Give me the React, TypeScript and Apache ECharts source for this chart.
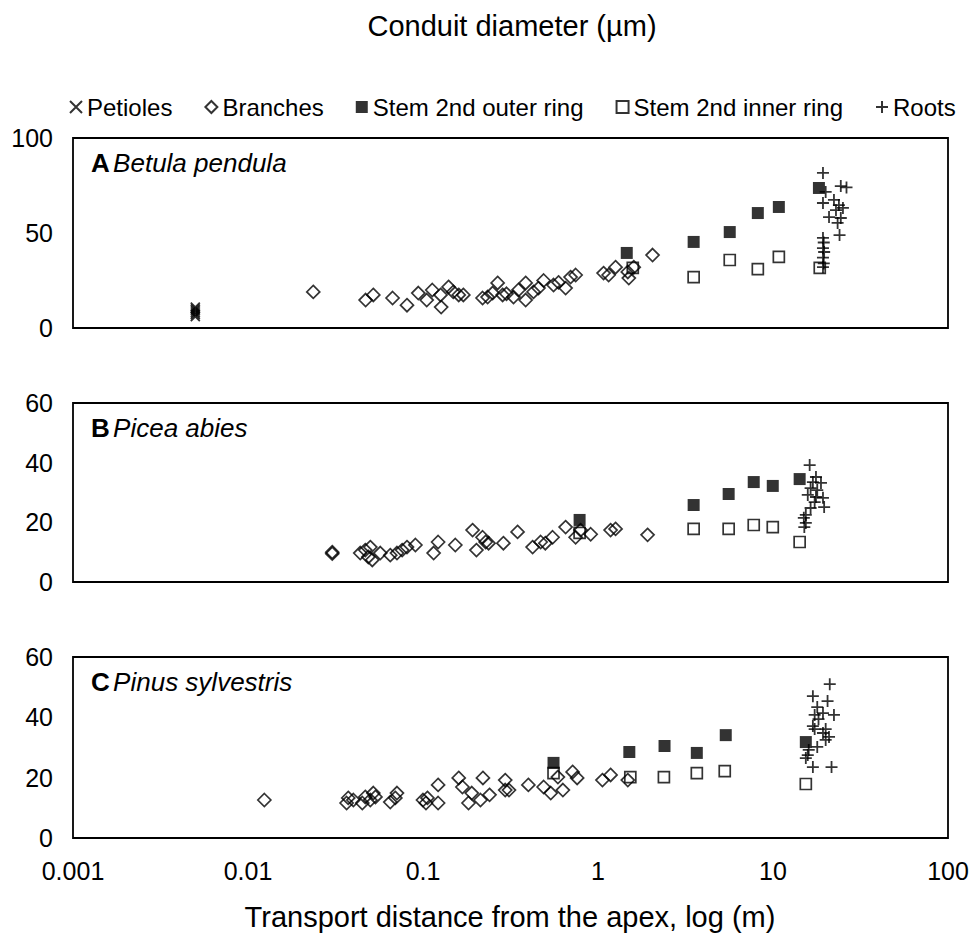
import React, { useEffect, useRef } from 'react';
import * as echarts from 'echarts';

const seriesNames = ['Petioles', 'Branches', 'Stem 2nd outer ring', 'Stem 2nd inner ring', 'Roots'];
const xTickLabels = ['0.001', '0.01', '0.1', '1', '10', '100'];
const panelLetters = ['A', 'B', 'C'];
const panelSpecies = ['Betula pendula', 'Picea abies', 'Pinus sylvestris'];
const yMaxes = [100, 60, 60];
const yIntervals = [50, 20, 20];

// Panel A: Betula pendula
const betulaPetioles = [[0.005, 6], [0.005, 7], [0.005, 8], [0.005, 9], [0.005, 10], [0.005, 11]];
const betulaBranches = [
  [0.0236, 19], [0.047, 14.7], [0.052, 17.4], [0.067, 15.8], [0.081, 12], [0.094, 18.4], [0.105, 14.7],
  [0.113, 20], [0.126, 17.4], [0.127, 11], [0.14, 21.6], [0.149, 19], [0.16, 17.4], [0.17, 17.4],
  [0.219, 15.8], [0.234, 16.3], [0.25, 18.4], [0.267, 23.7], [0.285, 17.4], [0.3, 18], [0.329, 16.3],
  [0.351, 20], [0.386, 14.7], [0.386, 23.7], [0.428, 19], [0.457, 21], [0.489, 25], [0.557, 22.6],
  [0.595, 24], [0.653, 21], [0.697, 26.8], [0.745, 27.9], [1.076, 28.9], [1.15, 27.9], [1.26, 32],
  [1.48, 29.5], [1.5, 26.3], [1.6, 32], [2.05, 38.4]
];
const betulaOuter = [[1.46, 39.5], [3.52, 45.3], [5.66, 50.5], [8.19, 60.5], [10.8, 63.7], [18.3, 73.7]];
const betulaInner = [[1.58, 31.6], [3.52, 26.8], [5.66, 35.8], [8.19, 31], [10.8, 37.4], [18.5, 31.6]];
const betulaRoots = [
  [19.3, 81.6], [20, 71.6], [24.4, 74.7], [26.3, 74], [19.3, 65.8], [22.3, 67.4], [23.8, 64.7],
  [25.1, 63.2], [22.9, 62], [20.9, 58.4], [24.4, 57.9], [23.4, 55.3], [24, 48.9], [19.3, 47.4],
  [19.5, 45], [19.3, 42], [19.6, 40], [19.3, 37], [19.5, 34], [19.3, 32]
];

// Panel B: Picea abies
const piceaBranches = [
  [0.0303, 9.5], [0.0303, 10], [0.0438, 9.7], [0.0468, 10.7], [0.0487, 8.4], [0.0513, 7.4], [0.05, 11.7],
  [0.057, 9.7], [0.065, 9], [0.071, 9.7], [0.076, 10.7], [0.081, 11.7], [0.0905, 12.4], [0.115, 9.7],
  [0.122, 13.4], [0.153, 12.4], [0.192, 17.4], [0.202, 10.7], [0.219, 15], [0.228, 13.4], [0.237, 13],
  [0.288, 13], [0.347, 16.8], [0.423, 11.7], [0.47, 13.4], [0.5, 13], [0.55, 15], [0.653, 18.4],
  [0.745, 15], [0.795, 17.4], [0.908, 16], [1.18, 17.4], [1.26, 17.8], [1.92, 15.8]
];
const piceaOuter = [[0.785, 20.8], [3.52, 25.8], [5.58, 29.5], [7.76, 33.5], [9.97, 32.2], [14.2, 34.5]];
const piceaInner = [[0.785, 16.5], [3.52, 17.8], [5.58, 17.8], [7.76, 19.1], [9.97, 18.4], [14.2, 13.4]];
const piceaRoots = [
  [16.2, 39.2], [17.6, 35.2], [16.9, 33.5], [18.8, 33.2], [16.4, 31.5], [17.9, 30.8], [15.8, 29.2],
  [17.6, 28.5], [19.3, 28.2], [17.3, 26.8], [19.6, 25.1], [16.4, 24.8], [15.4, 22.5], [15, 21.5],
  [15.4, 19.8], [15.1, 18.4]
];

// Panel C: Pinus sylvestris
const pinusBranches = [
  [0.0124, 12.6], [0.0374, 13.3], [0.0366, 11.6], [0.04, 12.6], [0.045, 11.6], [0.0468, 13.6], [0.05, 12.6],
  [0.052, 14.9], [0.0535, 13.6], [0.065, 11.9], [0.071, 14.9], [0.0695, 13.3], [0.1, 12.6], [0.104, 11.6],
  [0.106, 13.3], [0.122, 11.6], [0.122, 17.6], [0.16, 19.9], [0.168, 16.9], [0.182, 11.6], [0.19, 14.9],
  [0.213, 12.6], [0.22, 19.9], [0.24, 14.3], [0.295, 19.2], [0.295, 15.9], [0.31, 15.9], [0.4, 17.6],
  [0.489, 16.9], [0.537, 14.9], [0.63, 15.9], [0.59, 20.2], [0.716, 21.9], [0.76, 19.9], [1.06, 19.2],
  [1.18, 20.9], [1.48, 19.2]
];
const pinusOuter = [[0.557, 24.9], [1.51, 28.5], [2.4, 30.5], [3.67, 28.2], [5.37, 34.1], [15.4, 31.8]];
const pinusInner = [[0.557, 21.5], [1.53, 20.2], [2.38, 20.2], [3.67, 21.5], [5.3, 22.2], [15.4, 17.9]];
const pinusRoots = [
  [21.1, 51], [16.9, 47], [20.5, 45.4], [17.9, 43.4], [17.3, 40.8], [19.3, 41.4], [22.3, 40.8],
  [18.2, 39.4], [16.9, 37.1], [17.3, 36.1], [20, 36.1], [19.3, 34.8], [20.9, 33.5], [20, 32.5],
  [17.9, 30.2], [16, 29.2], [15.8, 27.5], [15.4, 26.5], [16.9, 23.5], [21.6, 23.5]
];

const panelData = [
  [betulaPetioles, betulaBranches, betulaOuter, betulaInner, betulaRoots],
  [[], piceaBranches, piceaOuter, piceaInner, piceaRoots],
  [[], pinusBranches, pinusOuter, pinusInner, pinusRoots]
];

const FONT = 'Arial, "Liberation Sans", sans-serif';
const GRID_LEFT = 73;
const GRID_WIDTH = 875;
const gridTops = [138, 403, 657];
const gridHeights = [190, 179, 181];

const symbolStyles = [
  { symbol: 'path://M0,0L10,10M10,0L0,10', symbolSize: 9, itemStyle: { color: 'transparent', borderColor: '#000', borderWidth: 1.8 } },
  { symbol: 'diamond', symbolSize: 13, itemStyle: { color: 'transparent', borderColor: '#000', borderWidth: 1.7 } },
  { symbol: 'rect', symbolSize: 12, itemStyle: { color: '#000', borderColor: '#000', borderWidth: 0 } },
  { symbol: 'rect', symbolSize: 11, itemStyle: { color: 'transparent', borderColor: '#000', borderWidth: 1.7 } },
  { symbol: 'path://M5,0L5,10M0,5L10,5', symbolSize: 12, itemStyle: { color: 'transparent', borderColor: '#000', borderWidth: 1.8 } }
];

export default function App() {
  const ref = useRef<HTMLDivElement>(null);
  useEffect(() => {
    if (!ref.current) return;
    const chart = echarts.init(ref.current, undefined, { renderer: 'svg' });

    const grid = gridTops.map((t, i) => ({
      left: GRID_LEFT, width: GRID_WIDTH, top: t, height: gridHeights[i],
      show: true, borderColor: '#000', borderWidth: 1.8, backgroundColor: 'transparent', containLabel: false
    }));

    const xAxis = gridTops.map((_, i) => ({
      type: 'log', logBase: 10, min: 0.001, max: 100, gridIndex: i,
      axisLine: { show: false }, axisTick: { show: false }, splitLine: { show: false },
      axisLabel: {
        show: i === 2, margin: 20, color: '#000', fontSize: 25, fontFamily: FONT,
        formatter: (v: number) => xTickLabels[Math.round(Math.log10(v)) + 3] ?? ''
      }
    }));

    const yAxis = gridTops.map((_, i) => ({
      type: 'value', min: 0, max: yMaxes[i], interval: yIntervals[i], gridIndex: i,
      axisLine: { show: false }, axisTick: { show: false }, splitLine: { show: false },
      axisLabel: { margin: 20, color: '#000', fontSize: 25, fontFamily: FONT }
    }));

    const series: any[] = [];
    panelData.forEach((sets, p) => {
      sets.forEach((data, k) => {
        series.push({
          type: 'scatter', name: seriesNames[k], xAxisIndex: p, yAxisIndex: p,
          data, ...symbolStyles[k], emphasis: { disabled: true }
        });
      });
    });

    const graphic: any[] = [
      { type: 'text', x: 512, y: 26, style: { text: 'Conduit diameter (µm)', fontSize: 29, fontFamily: FONT, fill: '#000', textAlign: 'center', textVerticalAlign: 'middle' } },
      { type: 'text', x: 510, y: 917, style: { text: 'Transport distance from the apex, log (m)', fontSize: 29, fontFamily: FONT, fill: '#000', textAlign: 'center', textVerticalAlign: 'middle' } }
    ];
    panelLetters.forEach((l, i) => {
      graphic.push({
        type: 'text', x: 91, y: gridTops[i] + 25,
        style: {
          text: `{b|${l}} {i|${panelSpecies[i]}}`, textVerticalAlign: 'middle',
          rich: {
            b: { fontSize: 26, fontWeight: 'bold', fontFamily: FONT, fill: '#000' },
            i: { fontSize: 26, fontStyle: 'italic', fontFamily: FONT, fill: '#000' }
          }
        }
      });
    });

    chart.setOption({
      animation: false,
      backgroundColor: '#fff',
      grid, xAxis, yAxis, series, graphic,
      legend: {
        data: seriesNames, top: 90, left: 64, itemWidth: 12, itemHeight: 12, itemGap: 32,
        textStyle: { fontSize: 24, fontFamily: FONT, color: '#000' }, selectedMode: false
      }
    });
    return () => chart.dispose();
  }, []);
  return <div ref={ref} style={{ position: 'fixed', left: 0, top: 0, width: 974, height: 933 }} />;
}
